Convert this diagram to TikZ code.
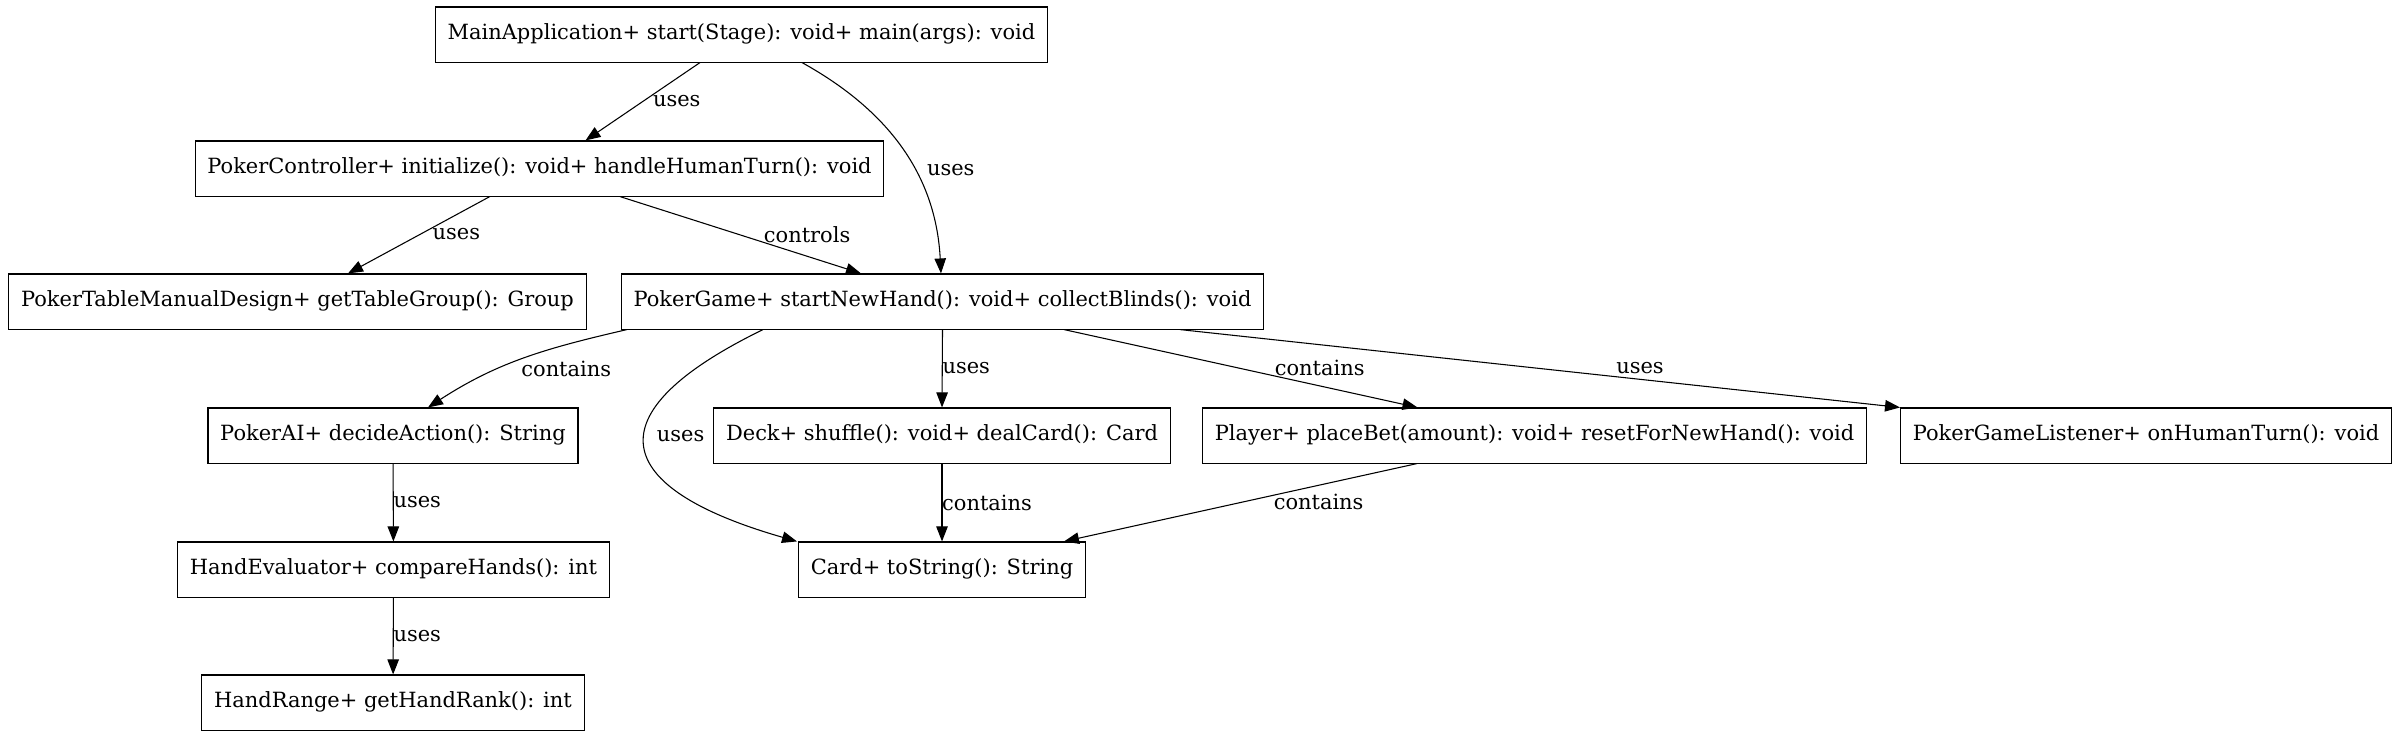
\documentclass[tikz,border=0pt]{standalone}
\usepackage{fontspec}
\setmainfont{DejaVu Serif}
\usetikzlibrary{arrows.meta}
\begin{document}
\begin{tikzpicture}[x=0.6537pt,y=0.6537pt,font=\fontsize{13.7}{17}\selectfont]
  \useasboundingbox (0,0) rectangle (2400,-737);
  \begin{scope}[every node/.style={draw=black,line width=0.7pt,rectangle,minimum height=36pt,inner xsep=8pt,inner ysep=0pt,text height=10pt,text depth=3pt}]
    \node (main) at (741.5,-34.5) {MainApplication+ start(Stage): void+ main(args): void};
    \node (ctrl) at (539.5,-168.5) {PokerController+ initialize(): void+ handleHumanTurn(): void};
    \node (table) at (297.5,-301.5) {PokerTableManualDesign+ getTableGroup(): Group};
    \node (game) at (942.5,-301.5) {PokerGame+ startNewHand(): void+ collectBlinds(): void};
    \node (ai) at (393,-435.5) {PokerAI+ decideAction(): String};
    \node (deck) at (942,-435.5) {Deck+ shuffle(): void+ dealCard(): Card};
    \node (player) at (1534.5,-435.5) {Player+ placeBet(amount): void+ resetForNewHand(): void};
    \node (listener) at (2146,-435.5) {PokerGameListener+ onHumanTurn(): void};
    \node (eval) at (393.5,-569.5) {HandEvaluator+ compareHands(): int};
    \node (card) at (942,-569.5) {Card+ toString(): String};
    \node (range) at (393,-702.5) {HandRange+ getHandRank(): int};
  \end{scope}
  \begin{scope}[every edge/.style={draw=black,line width=0.7pt,-{Triangle[length=9.8pt,width=7.5pt]}},
                every node/.style={inner sep=0pt}]
    \path ([shift={(-41.5,0)}]main.south) edge node[pos=0.5,shift={(34,0)}] {uses} ([shift={(46,0)}]ctrl.north);
    \path ([shift={(60.5,0)}]main.south) edge[out=-29,in=93] node[pos=0.6,shift={(36,0)}] {uses} ([shift={(-1.5,0)}]game.north);
    \path ([shift={(-49.7,0)}]ctrl.south) edge node[pos=0.49,shift={(36,0)}] {uses} ([shift={(50.5,0)}]table.north);
    \path ([shift={(80.5,0)}]ctrl.south) edge node[pos=0.49,shift={(69,0)}] {controls} ([shift={(-81.5,0)}]game.north);
    \path ([shift={(-315.5,0)}]game.south) edge[out=-167,in=33] node[pos=0.5,shift={(43,-10)}] {contains} ([shift={(35,0)}]ai.north);
    \path ([shift={(-179.5,0)}]game.south) edge[out=-154,in=164,looseness=2.3] node[pos=0.45,shift={(36,0)}] {uses} ([shift={(-145,0)}]card.north);
    \path (game.south) edge node[pos=0.5,shift={(24,0)}] {uses} (deck.north);
    \path ([shift={(121.5,0)}]game.south) edge node[pos=0.494,shift={(81,0)}] {contains} ([shift={(-117,0)}]player.north);
    \path ([shift={(237.5,0)}]game.south) edge node[pos=0.5,shift={(100,0)}] {uses} ([shift={(-246,0)}]listener.north);
    \path (ai) edge node[pos=0.5,shift={(24,0)}] {uses} (eval);
    \path (eval) edge node[pos=0.5,shift={(24,0)}] {uses} (range);
    \path (deck) edge node[pos=0.5,shift={(45,0)}] {contains} (card);
    \path ([shift={(-117.5,0)}]player.south) edge node[pos=0.494,shift={(76,0)}] {contains} ([shift={(122,0)}]card.north);
  \end{scope}
\end{tikzpicture}
\end{document}
